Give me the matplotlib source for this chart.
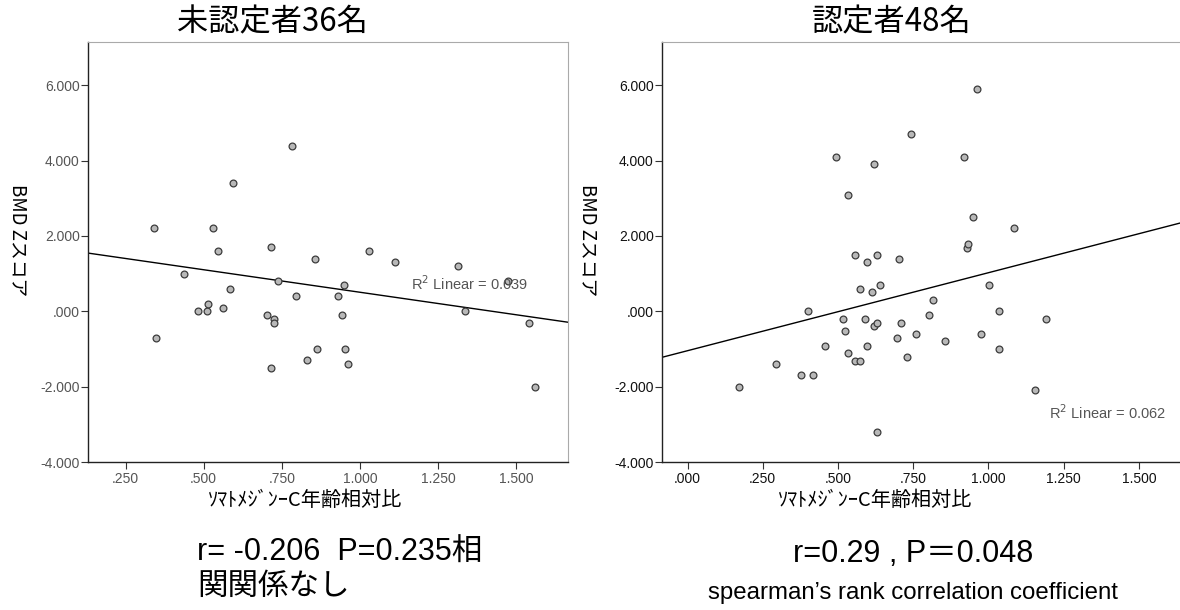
import numpy as np
import matplotlib
matplotlib.use("Agg")
import matplotlib.pyplot as plt
from matplotlib.ticker import FuncFormatter

plt.rcParams['font.family'] = ['Liberation Sans', 'Noto Sans CJK JP', 'DejaVu Sans']

# 未認定者 (left panel)
x_left = [0.341, 0.349, 0.437, 0.481, 0.510, 0.513, 0.530, 0.545, 0.562, 0.585,
          0.594, 0.704, 0.715, 0.714, 0.724, 0.724, 0.739, 0.781, 0.796, 0.831,
          0.855, 0.862, 0.928, 0.943, 0.950, 0.953, 0.962, 1.029, 1.111, 1.313,
          1.337, 1.473, 1.540, 1.560]
y_left = [2.20, -0.70, 1.00, 0.00, 0.00, 0.20, 2.20, 1.60, 0.10, 0.60,
          3.41, -0.10, 1.70, -1.50, -0.20, -0.30, 0.80, 4.40, 0.40, -1.30,
          1.40, -1.00, 0.40, -0.10, 0.70, -1.00, -1.40, 1.60, 1.30, 1.20,
          0.00, 0.80, -0.30, -2.00]
fit_left = (1.702, -1.196)  # intercept, slope
r2_left = "0.039"

# 認定者 (right panel)
x_right = [0.171, 0.294, 0.377, 0.418, 0.400, 0.456, 0.492, 0.515, 0.523, 0.533,
           0.533, 0.556, 0.556, 0.572, 0.572, 0.590, 0.597, 0.598, 0.613, 0.621,
           0.621, 0.629, 0.630, 0.630, 0.639, 0.696, 0.703, 0.708, 0.728, 0.744,
           0.760, 0.804, 0.816, 0.857, 0.920, 0.930, 0.933, 0.948, 0.963, 0.974,
           1.003, 1.036, 1.036, 1.085, 1.154, 1.193]
y_right = [-2.00, -1.40, -1.69, -1.69, 0.00, -0.91, 4.10, -0.21, -0.51, 3.10,
           -1.10, 1.50, -1.31, -1.31, 0.59, -0.21, 1.30, -0.91, 0.50, 3.90,
           -0.40, -0.30, 1.50, -3.20, 0.69, -0.70, 1.40, -0.30, -1.20, 4.71,
           -0.60, -0.10, 0.30, -0.80, 4.10, 1.69, 1.80, 2.50, 5.89, -0.61,
           0.69, 0.00, -1.00, 2.20, -2.09, -0.21]
fit_right = (-1.045, 2.07)
r2_right = "0.062"

W, H = 1180, 610
fig = plt.figure(figsize=(W / 100, H / 100), dpi=100)


def fx(px):
    return px / W


def fy(py):
    return 1 - py / H


def fmt(v, pos):
    s = f"{v:.3f}"
    if s.startswith("0."):
        s = s[1:]
    return s


def panel(rect, xs, ys, fit, r2, xlim, xticks, r2_pos, tickcolor):
    ax = fig.add_axes(rect)
    ax.scatter(xs, ys, s=24, c='#b8b8b8', edgecolors='#3c3c3c', linewidths=0.9, zorder=3)
    lx = np.array(xlim)
    ax.plot(lx, fit[0] + fit[1] * lx, color='black', lw=1.0, zorder=2)
    ax.set_xlim(xlim)
    ax.set_ylim(-4, 7.15)
    ax.set_xticks(xticks)
    ax.set_yticks([-4, -2, 0, 2, 4, 6])
    ax.xaxis.set_major_formatter(FuncFormatter(fmt))
    ax.yaxis.set_major_formatter(FuncFormatter(fmt))
    ax.tick_params(labelsize=10, labelcolor=tickcolor, color='#333333', length=5, width=0.8)
    ax.tick_params(axis='x', pad=2)
    ax.tick_params(axis='y', pad=1)
    for side in ['left', 'bottom']:
        ax.spines[side].set_color('#222222')
        ax.spines[side].set_linewidth(1.0)
    for side in ['top', 'right']:
        ax.spines[side].set_color('#aaaaaa')
        ax.spines[side].set_linewidth(0.8)
    ax.text(r2_pos[0], r2_pos[1], "R$^2$ Linear = " + r2, fontsize=10.5,
            color='#555555', va='center', ha='left', zorder=4)
    return ax


panel([fx(88), fy(462), fx(480), fy(42) - fy(462)], x_left, y_left, fit_left, r2_left,
      (0.13, 1.665), [0.25, 0.5, 0.75, 1.0, 1.25, 1.5], (1.163, 0.73), '#555555')
panel([fx(662), fy(462), fx(540), fy(42) - fy(462)], x_right, y_right, fit_right, r2_right,
      (-0.085, 1.71), [0.0, 0.25, 0.5, 0.75, 1.0, 1.25, 1.5], (1.20, -2.68), '#111111')

cjk = ['Noto Sans CJK JP', 'DejaVu Sans']
lat = ['Liberation Sans', 'Noto Sans CJK JP']

fig.text(fx(272), fy(22), "未認定者36名", family=cjk, fontsize=22.5, ha='center', va='center')
fig.text(fx(892), fy(22), "認定者48名", family=cjk, fontsize=22.5, ha='center', va='center')

for xp in (18, 588):
    fig.text(fx(xp), fy(240), "BMD Zスコア", family=cjk, fontsize=13.5, rotation=270,
             ha='center', va='center')

fig.text(fx(305), fy(500), "ｿﾏﾄﾒｼﾞﾝｰC年齢相対比", family=cjk, fontsize=14.5,
         ha='center', va='center')
fig.text(fx(875), fy(500), "ｿﾏﾄﾒｼﾞﾝｰC年齢相対比", family=cjk, fontsize=14.5,
         ha='center', va='center')

fig.text(fx(197), fy(553), "r= -0.206  P=0.235相", family=lat, fontsize=22,
         ha='left', va='center')
fig.text(fx(197), fy(586), "関関係なし", family=cjk, fontsize=22, ha='left', va='center')
fig.text(fx(913), fy(554), "r=0.29 , P＝0.048", family=lat, fontsize=22,
         ha='center', va='center')
fig.text(fx(913), fy(593), "spearman’s rank correlation coefficient", family=lat,
         fontsize=17.3, ha='center', va='center')

fig.savefig("out.png", dpi=100)
